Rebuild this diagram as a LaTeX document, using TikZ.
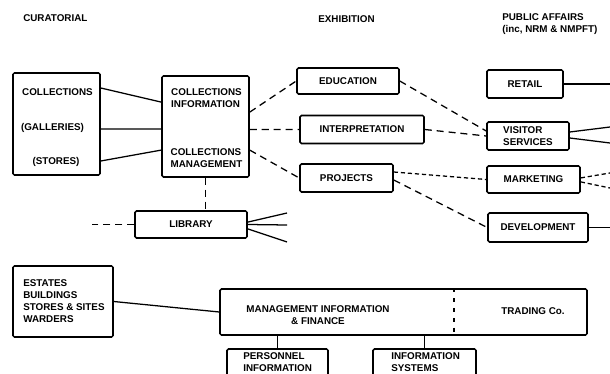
\documentclass[tikz,border=0pt]{standalone}
\usepackage{fontspec}
\setmainfont{Liberation Sans}
\begin{document}
\begin{tikzpicture}[x=0.25mm, y=-0.25mm, font=\fontsize{7}{8.5}\selectfont\bfseries,
  dept/.style={draw, line width=1.1pt, rounded corners=1pt, inner sep=0pt, align=left},
  txt/.style={inner sep=0pt, align=left},
  link/.style={line width=0.9pt},
  dlink/.style={link, dash pattern=on 5pt off 3.5pt},
  flink/.style={link, dash pattern=on 3pt off 2pt}]
\useasboundingbox (0,0) rectangle (610,374);
\clip (0,0) rectangle (610,374);
\node[txt, anchor=west] (cur) at (23,18) {CURATORIAL};
\node[txt, anchor=west] (exh) at (318,19) {EXHIBITION};
\node[txt, anchor=west] (pub) at (502,24.5) {PUBLIC AFFAIRS\\(inc, NRM \& NMPFT)};
\node[dept, minimum width=21.75mm, minimum height=25.5mm] (colbox) at (56.5,124) {};
\node[txt] (colA) at (57.5,92) {COLLECTIONS};
\node[txt] (colB) at (52.5,128) {(GALLERIES)};
\node[txt] (colC) at (56,162) {(STORES)};
\node[dept, minimum width=21.75mm, minimum height=25.25mm] (colinfo) at (205.5,126.5) {};
\node[txt] (ciTop) at (206.5,98) {COLLECTIONS\\INFORMATION};
\node[txt] (ciBot) at (206.5,158) {COLLECTIONS\\MANAGEMENT};
\node[dept, minimum width=25.5mm, minimum height=6.5mm] (edu) at (348,81) {EDUCATION};
\node[dept, minimum width=31mm, minimum height=7mm] (interp) at (362,129.5) {INTERPRETATION};
\node[dept, minimum width=23.25mm, minimum height=7mm] (proj) at (346.5,178) {PROJECTS};
\node[dept, minimum width=19mm, minimum height=7mm] (retail) at (525,84) {RETAIL};
\node[dept, minimum width=20.5mm, minimum height=7mm] (vis) at (528,136) {VISITOR\\SERVICES};
\node[dept, minimum width=23.25mm, minimum height=6.75mm] (mkt) at (533.5,179.5) {MARKETING};
\node[dept, minimum width=25mm, minimum height=7.25mm] (dev) at (538,227.5) {DEVELOPMENT};
\node[dept, minimum width=28mm, minimum height=6.75mm] (lib) at (191,224.5) {LIBRARY};
\node[dept, minimum width=25mm, minimum height=17.75mm] (est) at (63,301.5) {};
\node[txt, anchor=west] (estTxt) at (23,301.5) {ESTATES\\BUILDINGS\\STORES \& SITES\\WARDERS};
\node[dept, minimum width=91.75mm, minimum height=11.5mm] (mgmt) at (403.5,312) {};
\node[txt, align=center] (mgmtTxt) at (318,315.5) {MANAGEMENT INFORMATION\\\& FINANCE};
\node[txt] (trade) at (533,311) {TRADING Co.};
\coordinate (split) at (454,312);
\node[dept, minimum width=25.25mm, minimum height=10mm] (pers) at (277.5,369) {};
\node[txt, anchor=north west] (persTxt) at (243,352) {PERSONNEL\\INFORMATION};
\node[dept, minimum width=25.75mm, minimum height=10mm] (infsys) at (424.5,369) {};
\node[txt, anchor=north west] (infTxt) at (391,352) {INFORMATION\\SYSTEMS};
\draw[link] ([yshift=9mm]colbox.east) -- ([yshift=6.1mm]colinfo.west);
\draw[link] ([yshift=-1.25mm]colbox.east) -- ([yshift=-0.6mm]colinfo.west);
\draw[link] ([yshift=-9.25mm]colbox.east) -- ([yshift=-5.9mm]colinfo.west);
\draw[dlink] ([yshift=3.6mm]colinfo.east) -- (edu.west);
\draw[dlink] ([yshift=-0.75mm]colinfo.east) -- (interp.west);
\draw[dlink] ([yshift=-5.9mm]colinfo.east) -- (proj.west);
\draw[dlink] (colinfo.south) -- (colinfo.south |- lib.north);
\coordinate (libL) at (92,224.5);
\draw[dlink] (lib.west) -- (libL);
\coordinate (fanA) at (287,213);
\coordinate (fanB) at (287,225);
\coordinate (fanC) at (287,242);
\draw[link] ([yshift=0.6mm]lib.east) -- (fanA);
\draw[link] (lib.east) -- (fanB);
\draw[link] ([yshift=-1.1mm]lib.east) -- (fanC);
\draw[dlink] (edu.east) -- ([yshift=1.25mm]vis.west);
\draw[dlink] (interp.east) -- (vis.west);
\draw[flink] ([yshift=1.5mm]proj.east) -- (mkt.west);
\draw[dlink] ([yshift=-0.5mm]proj.east) -- (dev.west);
\coordinate (rtA) at (610,84);
\coordinate (rtB) at (610,127);
\coordinate (rtC) at (610,143);
\coordinate (rtD) at (610,173);
\coordinate (rtE) at (610,188);
\coordinate (rtF) at (610,227.5);
\draw[link] (retail.east) -- (rtA);
\draw[link] ([yshift=1mm]vis.east) -- (rtB);
\draw[link] ([yshift=-0.5mm]vis.east) -- (rtC);
\draw[flink] ([yshift=0.4mm]mkt.east) -- (rtD);
\draw[flink] ([yshift=-0.6mm]mkt.east) -- (rtE);
\draw[link] (dev.east) -- (rtF);
\draw[link] (est.east) -- (mgmt.west);
\draw[link, dash pattern=on 3pt off 4pt] (split |- mgmt.north) -- (split |- mgmt.south);
\draw[link] (pers.north) -- (pers.north |- mgmt.south);
\draw[link] (infsys.north) -- (infsys.north |- mgmt.south);
\end{tikzpicture}
\end{document}
